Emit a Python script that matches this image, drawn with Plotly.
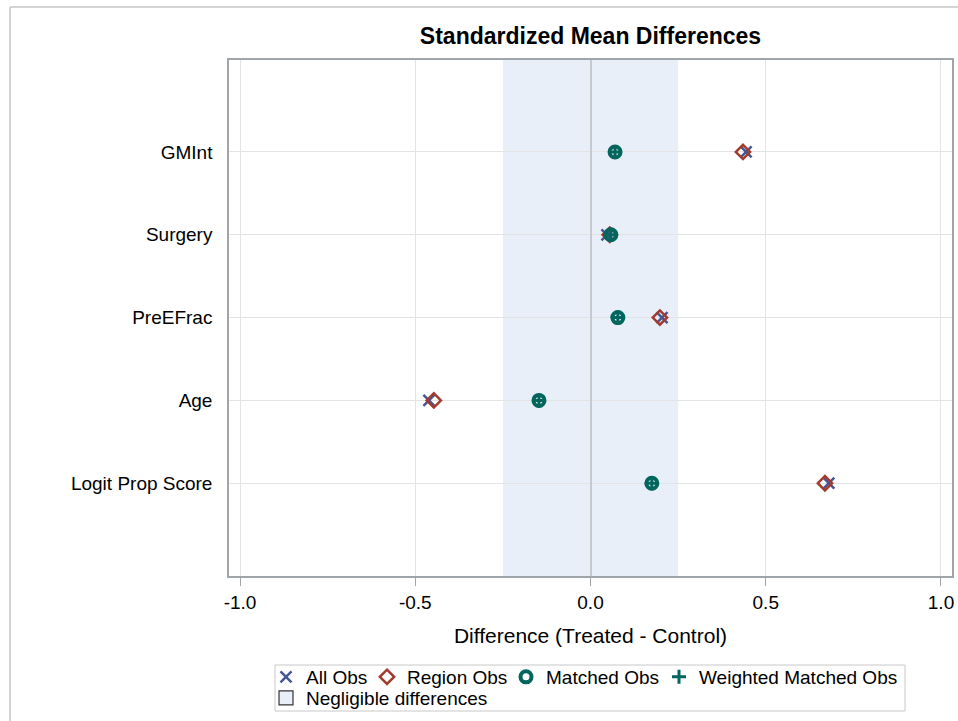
import plotly.graph_objects as go

# Covariates, bottom to top
categories = ["Logit Prop Score", "Age", "PreEFrac", "Surgery", "GMInt"]

# Standardized mean differences per sample
all_obs = [0.680, -0.461, 0.204, 0.047, 0.444]
region_obs = [0.669, -0.447, 0.198, 0.055, 0.435]
matched_obs = [0.175, -0.147, 0.078, 0.058, 0.070]
weighted_matched_obs = [0.175, -0.147, 0.078, 0.058, 0.070]

# Threshold for negligible differences
negligible_limit = 0.25

x_ticks = [-1.0, -0.5, 0.0, 0.5, 1.0]
x_tick_labels = ["-1.0", "-0.5", "0.0", "0.5", "1.0"]

FONT = "Liberation Sans, Arial, sans-serif"
BLUE = "#445694"
RED = "#A23A2E"
TEAL = "#01665E"
BAND = "#E8EFF8"

W, H = 958, 721
L, R, T, B = 229, 6, 60, 145
PW, PH = W - L - R, H - T - B


def px_x(px):
    return (px - L) / PW


def px_y(py):
    return (H - B - py) / PH


fig = go.Figure()

fig.add_trace(go.Scatter(
    x=all_obs, y=categories, mode="markers", name="All Obs",
    marker=dict(symbol="x-thin", size=11, color=BLUE,
                line=dict(color=BLUE, width=2.5)),
    legend="legend", legendwidth=56,
))
fig.add_trace(go.Scatter(
    x=region_obs, y=categories, mode="markers", name="Region Obs",
    marker=dict(symbol="diamond-open", size=11, color=RED,
                line=dict(color=RED, width=2.5)),
    legend="legend", legendwidth=94,
))
fig.add_trace(go.Scatter(
    x=matched_obs, y=categories, mode="markers", name="Matched Obs",
    marker=dict(symbol="circle-open", size=11, color=TEAL,
                line=dict(color=TEAL, width=4)),
    legend="legend", legendwidth=108,
))
fig.add_trace(go.Scatter(
    x=weighted_matched_obs, y=categories, mode="markers",
    name="Weighted Matched Obs",
    marker=dict(symbol="cross-thin", size=10, color=TEAL,
                line=dict(color=TEAL, width=3)),
    legend="legend",
))
fig.add_trace(go.Scatter(
    x=[None], y=[None], mode="markers", name="Negligible differences",
    marker=dict(symbol="square", size=14, color=BAND,
                line=dict(color="#333333", width=1.2)),
    legend="legend2",
))

shapes = [
    # negligible band
    dict(type="rect", xref="x", yref="paper", x0=-negligible_limit,
         x1=negligible_limit, y0=0, y1=1, fillcolor=BAND,
         line=dict(width=0), layer="below"),
    # legend frame
    dict(type="rect", xref="paper", yref="paper",
         x0=px_x(275), x1=px_x(905), y0=px_y(711), y1=px_y(665),
         line=dict(color="#C8C8C8", width=1), fillcolor="rgba(0,0,0,0)"),
    # outer graph border
    dict(type="line", xref="paper", yref="paper",
         x0=px_x(10), x1=px_x(10), y0=px_y(725), y1=px_y(7),
         line=dict(color="#D4D4D4", width=2)),
    dict(type="line", xref="paper", yref="paper",
         x0=px_x(10), x1=px_x(962), y0=px_y(7), y1=px_y(7),
         line=dict(color="#D4D4D4", width=2)),
]

legend_font = dict(family=FONT, size=19, color="black")

fig.update_layout(
    width=W, height=H,
    margin=dict(l=L, r=R, t=T, b=B, autoexpand=False),
    paper_bgcolor="white", plot_bgcolor="white",
    font=dict(family=FONT, size=19, color="black"),
    title=dict(text="<b>Standardized Mean Differences</b>",
               x=px_x(590.5), xref="paper", xanchor="center",
               y=1 - 36 / H, yanchor="middle",
               font=dict(family=FONT, size=23, color="black")),
    shapes=shapes,
    showlegend=True,
    legend=dict(orientation="h", x=px_x(266), y=px_y(658),
                xanchor="left", yanchor="top", xref="paper", yref="paper",
                bgcolor="rgba(0,0,0,0)", borderwidth=0,
                font=legend_font, itemwidth=30, tracegroupgap=0),
    legend2=dict(orientation="h", x=px_x(266), y=px_y(679),
                 xanchor="left", yanchor="top", xref="paper", yref="paper",
                 bgcolor="rgba(0,0,0,0)", borderwidth=0,
                 font=legend_font, itemwidth=30),
    xaxis=dict(
        range=[-1.0314, 1.0314],
        tickvals=x_ticks, ticktext=x_tick_labels,
        ticks="outside", ticklen=8, tickwidth=1, tickcolor="#A0A5AA",
        tickfont=dict(family=FONT, size=19, color="black"),
        showgrid=True, gridcolor="#E3E3E3", gridwidth=1,
        zeroline=True, zerolinecolor="#C6CACE", zerolinewidth=2,
        showline=True, linecolor="#A0A5AA", linewidth=1.5, mirror=True,
        title=dict(text="Difference (Treated - Control)", standoff=17,
                   font=dict(family=FONT, size=21, color="black")),
    ),
    yaxis=dict(
        type="category", categoryorder="array", categoryarray=categories,
        range=[-1.12, 5.11],
        ticks="", ticklabelstandoff=11,
        tickfont=dict(family=FONT, size=19, color="black"),
        showgrid=True, gridcolor="#E3E3E3", gridwidth=1,
        showline=True, linecolor="#A0A5AA", linewidth=1.5, mirror=True,
    ),
)

fig.write_html("out.html")
